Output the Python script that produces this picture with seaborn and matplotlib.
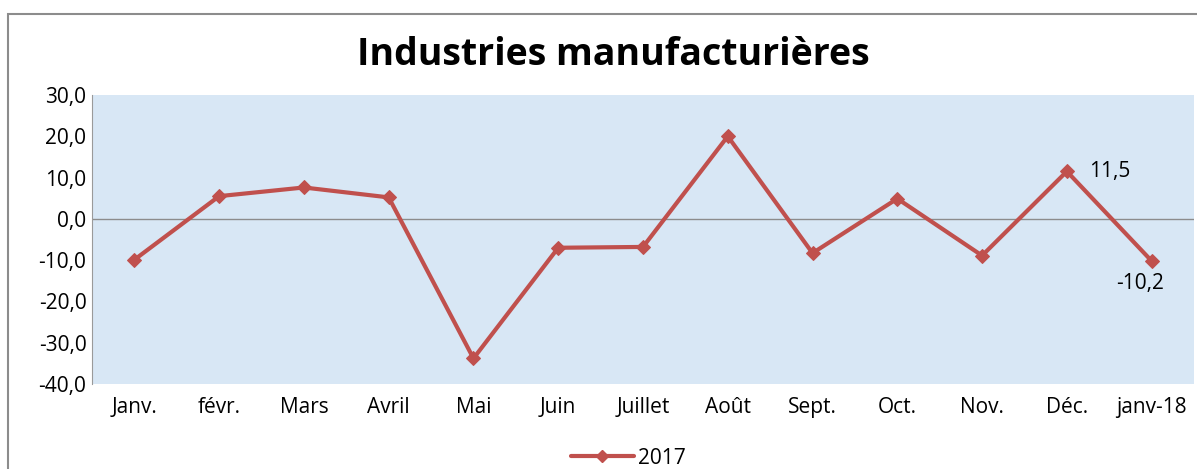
import matplotlib
matplotlib.use("Agg")
import matplotlib.pyplot as plt
import seaborn as sns
import pandas as pd
from matplotlib.patches import Rectangle
from matplotlib.lines import Line2D

months = ["Janv.", "févr.", "Mars", "Avril", "Mai", "Juin", "Juillet", "Août",
          "Sept.", "Oct.", "Nov.", "Déc.", "janv-18"]
values = [-9.9, 5.5, 7.6, 5.2, -33.8, -7.0, -6.8, 20.0, -8.3, 4.9, -8.9, 11.5, -10.2]
series_name = "2017"
yticks = [30, 20, 10, 0, -10, -20, -30, -40]
title = "Industries manufacturières"

df = pd.DataFrame({"mois": months, "valeur": values, "serie": series_name})
df["pos"] = range(len(months))

sns.set_theme(style="white")
plt.rcParams["font.family"] = ["Open Sans", "DejaVu Sans"]
plt.rcParams["text.color"] = "black"
plt.rcParams["xtick.color"] = "black"
plt.rcParams["ytick.color"] = "black"

fig = plt.figure(figsize=(11.97, 4.69), dpi=100)
W, H = 1197, 469
ax = fig.add_axes([92 / W, 1 - 384 / H, (1194 - 92) / W, (384 - 95) / H])

# outer chart frame
fig.patches.append(Rectangle((8 / W, -0.05), 1.2, 1 - 14 / H + 0.05,
                             transform=fig.transFigure, fill=False,
                             edgecolor="#8c8c8c", linewidth=1.5))

ax.set_facecolor("#d8e7f5")
sns.lineplot(data=df, x="pos", y="valeur", hue="serie", palette=["#c0504d"],
             marker="D", markersize=7.5, markeredgecolor="#c0504d",
             linewidth=3, ax=ax, legend=False)
ax.axhline(0, color="#8c8c8c", linewidth=1, zorder=1)

ax.set_xlim(-0.5, len(months) - 0.5)
ax.set_ylim(-40, 30)
ax.set_yticks(yticks)
ax.set_yticklabels([f"{v:.1f}".replace(".", ",") for v in yticks], fontsize=15)
ax.set_xticks(range(len(months)))
ax.set_xticklabels(months, fontsize=15)
ax.tick_params(axis="x", pad=9, length=0)
ax.tick_params(axis="y", pad=4, length=0)
ax.set_xlabel("")
ax.set_ylabel("")
for s in ax.spines.values():
    s.set_visible(False)
ax.spines["left"].set_visible(True)
ax.spines["left"].set_color("#9a9a9a")
ax.spines["left"].set_linewidth(0.8)

# data labels
ax.annotate("11,5", (11, values[11]), xytext=(16, 0),
            textcoords="offset points", fontsize=15, va="center", ha="left")
ax.annotate("-10,2", (12, values[12]), xytext=(-8, -9),
            textcoords="offset points", fontsize=15, va="top", ha="center")

fig.text(0.512, 1 - 55 / H, title, ha="center", va="center",
         fontsize=27, fontweight="bold")

# legend
h = [Line2D([0], [0], color="#c0504d", lw=3, marker="D", markersize=6)]
fig.legend(h, [series_name], loc="center", bbox_to_anchor=(0.525, 1 - 458 / H),
           frameon=False, fontsize=15, handlelength=3, handletextpad=0.2)

fig.savefig("out.png", dpi=100)
